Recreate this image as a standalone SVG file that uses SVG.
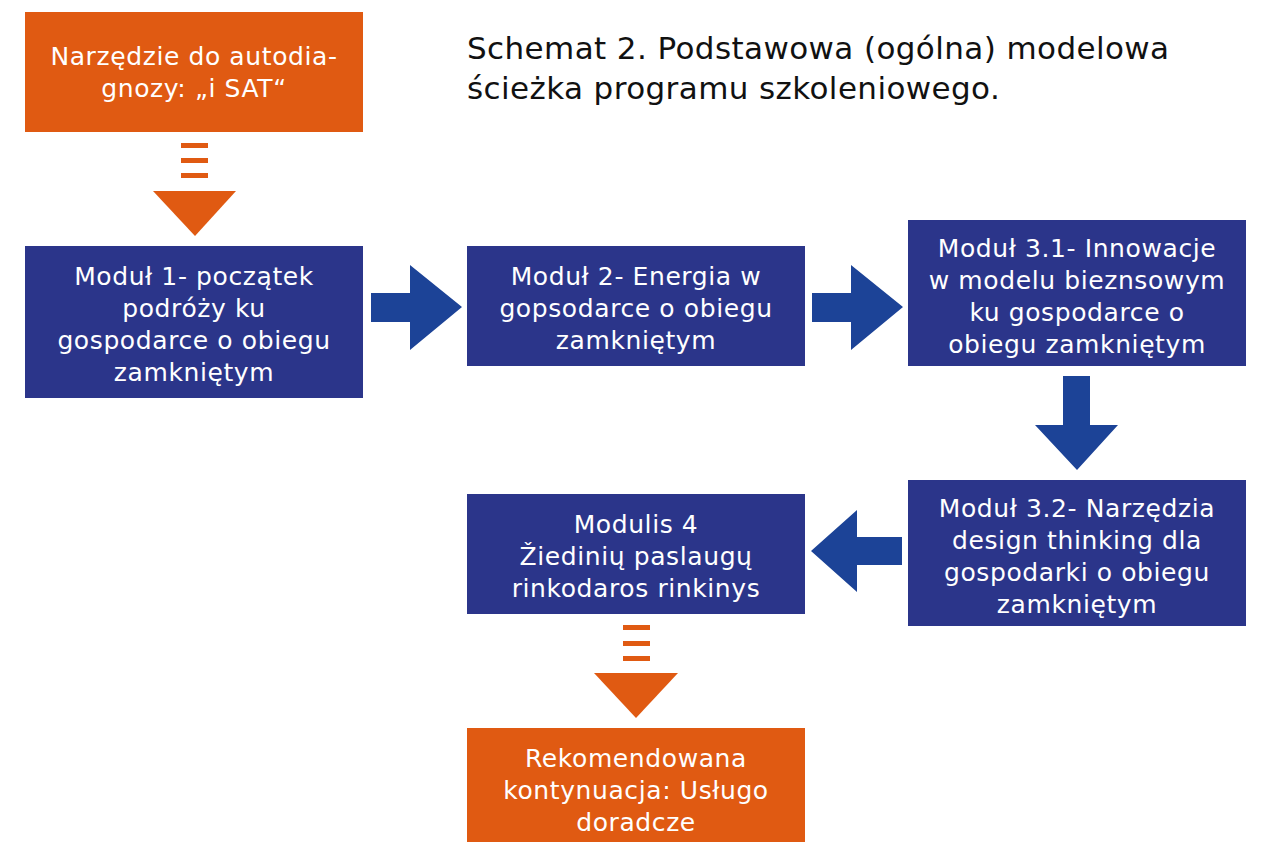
<svg xmlns="http://www.w3.org/2000/svg" width="1261" height="842" viewBox="0 0 1261 842">
<style>
.ob{fill:#E05A12}
.bb{fill:#2B358A}
.ar{fill:#1C4397}
.oa{fill:#E05A12}
.t{font-family:"DejaVu Sans","Liberation Sans",sans-serif;font-size:25px;letter-spacing:0.6px;fill:#FFFFFF;text-anchor:middle}
.title{font-family:"DejaVu Sans","Liberation Sans",sans-serif;font-size:31px;letter-spacing:0.4px;fill:#111111}
</style>
<rect width="1261" height="842" fill="#FFFFFF"/>
<text class="title" x="467" y="59">Schemat 2. Podstawowa (ogólna) modelowa</text>
<text class="title" x="467" y="99">ścieżka programu szkoleniowego.</text>
<g id="n_isat">
<rect class="ob" x="25" y="12" width="338" height="120"/>
<text class="t" x="194" y="65">Narzędzie do autodia-</text>
<text class="t" x="194" y="97">gnozy: „i SAT“</text>
</g>
<g id="n_m1">
<rect class="bb" x="25" y="246" width="338" height="152"/>
<text class="t" x="194" y="285">Moduł 1- początek</text>
<text class="t" x="194" y="317">podróży ku</text>
<text class="t" x="194" y="349">gospodarce o obiegu</text>
<text class="t" x="194" y="381">zamkniętym</text>
</g>
<g id="n_m2">
<rect class="bb" x="467" y="246" width="338" height="120"/>
<text class="t" x="636" y="285">Moduł 2- Energia w</text>
<text class="t" x="636" y="317">gopsodarce o obiegu</text>
<text class="t" x="636" y="349">zamkniętym</text>
</g>
<g id="n_m31">
<rect class="bb" x="908" y="220" width="338" height="146"/>
<text class="t" x="1077" y="257">Moduł 3.1- Innowacje</text>
<text class="t" x="1077" y="289">w modelu bieznsowym</text>
<text class="t" x="1077" y="321">ku gospodarce o</text>
<text class="t" x="1077" y="353">obiegu zamkniętym</text>
</g>
<g id="n_m32">
<rect class="bb" x="908" y="480" width="338" height="146"/>
<text class="t" x="1077" y="517">Moduł 3.2- Narzędzia</text>
<text class="t" x="1077" y="549">design thinking dla</text>
<text class="t" x="1077" y="581">gospodarki o obiegu</text>
<text class="t" x="1077" y="613">zamkniętym</text>
</g>
<g id="n_m4">
<rect class="bb" x="467" y="494" width="338" height="120"/>
<text class="t" x="636" y="533">Modulis 4</text>
<text class="t" x="636" y="565">Žiedinių paslaugų</text>
<text class="t" x="636" y="597">rinkodaros rinkinys</text>
</g>
<g id="n_rek">
<rect class="ob" x="467" y="728" width="338" height="114"/>
<text class="t" x="636" y="767">Rekomendowana</text>
<text class="t" x="636" y="799">kontynuacja: Usługo</text>
<text class="t" x="636" y="831">doradcze</text>
</g>
<g id="connectors">
<g class="oa">
<rect x="181" y="143" width="27" height="5"/>
<rect x="181" y="158" width="27" height="5"/>
<rect x="181" y="173" width="27" height="5"/>
<polygon points="153,191 236,191 195,236"/>
</g>
<polygon class="ar" points="371,293 410,293 410,265 462,307 410,350 410,322 371,322"/>
<polygon class="ar" points="812,293 851,293 851,265 903,307 851,350 851,322 812,322"/>
<polygon class="ar" points="1063,376 1090,376 1090,425 1118,425 1077,470 1035,425 1063,425"/>
<polygon class="ar" points="902,537 902,565 857,565 857,592 811,551 857,510 857,537"/>
<g class="oa">
<rect x="623" y="625" width="27" height="5"/>
<rect x="623" y="641" width="27" height="5"/>
<rect x="623" y="656" width="27" height="5"/>
<polygon points="594,673 678,673 636,718"/>
</g>
</g>
</svg>
